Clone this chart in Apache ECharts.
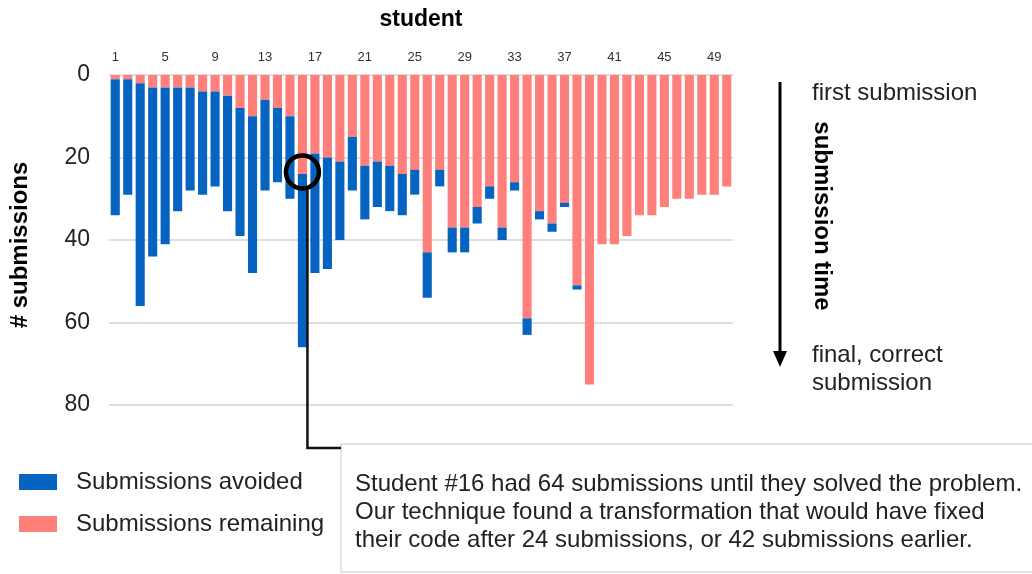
<!DOCTYPE html>
<html><head><meta charset="utf-8">
<script src="https://cdn.jsdelivr.net/npm/echarts@6/dist/echarts.min.js"></script>
<style>html,body{margin:0;padding:0;background:#fff}#c{width:1032px;height:574px}</style>
</head><body><div id="c"></div>
<script>
const students = ['1','2','3','4','5','6','7','8','9','10','11','12','13','14','15','16','17','18','19','20','21','22','23','24','25','26','27','28','29','30','31','32','33','34','35','36','37','38','39','40','41','42','43','44','45','46','47','48','49','50'];
const remaining = [1,1,2,3,3,3,3,4,4,5,8,10,6,8,10,24,19,20,21,15,22,21,22,24,23,43,23,37,37,32,27,37,26,59,33,36,31,51,75,41,41,39,34,34,32,30,30,29,29,27];
const avoided   = [33,28,54,41,38,30,25,25,23,28,31,38,22,18,20,42,29,27,19,13,13,11,11,10,6,11,4,6,6,4,3,3,2,4,2,2,1,1,0,0,0,0,0,0,0,0,0,0,0,0];
const yMin = 0, yMax = 80, yStep = 20;
const highlightStudent = '16';
const highlightValue = 23.5;
const annotationLines = [
  'Student #16 had 64 submissions until they solved the problem.',
  'Our technique found a transformation that would have fixed',
  'their code after 24 submissions, or 42 submissions earlier.'
];

const FONT = "'Liberation Sans', 'Helvetica Neue', Helvetica, Arial, sans-serif";
const BLUE = '#0563c1', RED = '#ff7f7b';
const chart = echarts.init(document.getElementById('c'));
chart.setOption({
  backgroundColor: '#fff',
  textStyle: { fontFamily: FONT },
  animation: false,
  grid: { left: 109, right: 299, top: 75, bottom: 169, containLabel: false, outerBoundsMode: 'none' },
  legend: {
    data: ['Submissions avoided', 'Submissions remaining'],
    orient: 'vertical', left: 19, top: 470, padding: 0,
    itemWidth: 38, itemHeight: 16, itemGap: 18,
    icon: 'rect',
    textStyle: { fontFamily: FONT, fontSize: 24, color: '#222', padding: [0, 0, 0, 14] }
  },
  xAxis: {
    type: 'category', data: students, position: 'top',
    name: 'student', nameLocation: 'middle', nameGap: 44,
    nameTextStyle: { fontFamily: FONT, fontSize: 23, fontWeight: 'bold', color: '#000' },
    axisLine: { show: false }, axisTick: { show: false },
    axisLabel: { interval: 3, fontSize: 13, color: '#333', margin: 11, fontFamily: FONT },
    splitLine: { show: false }
  },
  yAxis: {
    type: 'value', inverse: true, min: yMin, max: yMax, interval: yStep,
    name: '# submissions', nameLocation: 'middle', nameGap: 77, nameRotate: 90,
    nameTextStyle: { fontFamily: FONT, fontSize: 24, fontWeight: 'bold', color: '#000', padding: [0, 10, 0, 0] },
    axisLine: { show: false }, axisTick: { show: false },
    axisLabel: { fontSize: 23, color: '#222', margin: 19, fontFamily: FONT },
    splitLine: { lineStyle: { color: '#d4d4d4', width: 1.5 } }
  },
  series: [
    { name: 'Submissions remaining', type: 'bar', stack: 's', data: remaining,
      itemStyle: { color: RED }, barCategoryGap: '27%' },
    { name: 'Submissions avoided', type: 'bar', stack: 's', data: avoided,
      itemStyle: { color: BLUE }, barCategoryGap: '27%' }
  ]
});

function drawAnnotations() {
  const p = chart.convertToPixel({ gridIndex: 0 }, [highlightStudent, highlightValue]);
  const cx = p[0], cy = p[1], r = 16.5;
  const lineX = cx + 5;
  const boxX = 341, boxY = 444, hookY = 448;
  chart.setOption({
    graphic: [
      { type: 'circle', shape: { cx: cx, cy: cy, r: r }, style: { fill: 'none', stroke: '#000', lineWidth: 4.5 }, z: 100 },
      { type: 'polyline', shape: { points: [[lineX, cy + r + 1], [lineX, hookY], [boxX, hookY]] },
        style: { stroke: '#111', lineWidth: 2.5, fill: 'none' }, z: 100 },
      { type: 'rect', shape: { x: boxX, y: boxY, width: 720, height: 128 },
        style: { fill: '#fff', stroke: '#dcdcdc', lineWidth: 1.5 }, z: 99 },
      { type: 'text', x: 355, y: 470, z: 101,
        style: { text: annotationLines.join('\n'), font: '24px ' + FONT, fill: '#222', lineHeight: 28, verticalAlign: 'top' } },
      { type: 'line', shape: { x1: 780, y1: 82, x2: 780, y2: 354 }, style: { stroke: '#000', lineWidth: 3 }, z: 100 },
      { type: 'polygon', shape: { points: [[773, 351], [787, 351], [780, 367]] }, style: { fill: '#000' }, z: 100 },
      { type: 'text', x: 812, y: 93, style: { text: 'first submission', font: '24px ' + FONT, fill: '#222', verticalAlign: 'middle' } },
      { type: 'text', x: 822, y: 216, rotation: -Math.PI / 2,
        style: { text: 'submission time', font: 'bold 24px ' + FONT, fill: '#000', align: 'center', verticalAlign: 'middle' } },
      { type: 'text', x: 812, y: 355, style: { text: 'final, correct', font: '24px ' + FONT, fill: '#222', verticalAlign: 'middle' } },
      { type: 'text', x: 812, y: 383, style: { text: 'submission', font: '24px ' + FONT, fill: '#222', verticalAlign: 'middle' } }
    ]
  });
}
drawAnnotations();
</script>
</body></html>
